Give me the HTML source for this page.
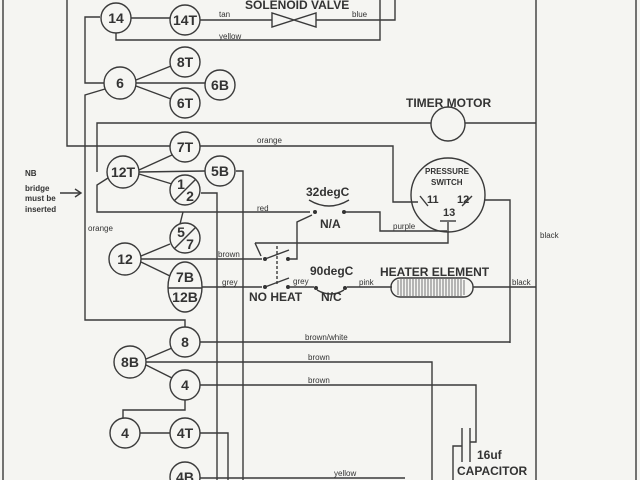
<!DOCTYPE html>
<html><head><meta charset="utf-8"><style>
html,body{margin:0;padding:0;background:#f5f5f2;}
svg{display:block;}
text{font-family:"Liberation Sans",Arial,sans-serif;fill:#333;}
.n{font-size:14px;font-weight:bold;text-anchor:middle;}
.s{font-size:8px;}
.b{font-size:12px;font-weight:bold;}
</style></head><body>
<svg width="640" height="480" viewBox="0 0 640 480" xmlns="http://www.w3.org/2000/svg">
<rect width="640" height="480" fill="#f5f5f2"/>
<g fill="none" stroke="#3a3a3a" stroke-width="1.4">
<line x1="3" y1="0" x2="3" y2="480"/>
<line x1="636" y1="0" x2="636" y2="480"/>
<line x1="536" y1="0" x2="536" y2="480"/>
<polyline points="100,17 85,17 85,83 104,83"/>
<line x1="131" y1="18" x2="170" y2="18"/>
<polyline points="200,20 272,20"/>
<polygon points="272,13 272,27 316,13 316,27"/>
<polyline points="316,20 395,20 395,0"/>
<polyline points="116,33 116,40 380,40 380,0"/>
<polyline points="67,0 67,146 170,146"/>
<line x1="136" y1="80" x2="171" y2="66"/>
<line x1="136" y1="83" x2="205" y2="83"/>
<line x1="136" y1="86" x2="171" y2="99"/>
<polyline points="105,89 85,95 85,320 185,320 185,327"/>
<polyline points="97,172 97,123 431,123"/>
<line x1="465" y1="123" x2="536" y2="123"/>
<circle cx="448" cy="124" r="17"/>
<polyline points="200,146 393,146 393,202 418,202"/>
<polyline points="108,178 97,185 97,212 310,212"/>
<line x1="183" y1="212" x2="180" y2="224"/>
<line x1="139" y1="170" x2="172" y2="155"/>
<line x1="139" y1="172" x2="205" y2="171"/>
<line x1="139" y1="174" x2="172" y2="184"/>
<polyline points="236,171 243,171 243,480"/>
<polyline points="201,193 217,193 217,480"/>
<line x1="141" y1="256" x2="170" y2="244"/>
<line x1="141" y1="259" x2="262" y2="259"/>
<line x1="141" y1="262" x2="170" y2="276"/>
<line x1="202" y1="287" x2="262" y2="287"/>
<line x1="265" y1="259" x2="289" y2="250"/>
<line x1="265" y1="287" x2="289" y2="278"/>
<line x1="277" y1="246" x2="277" y2="284" stroke-dasharray="3,2"/>
<polyline points="290,259 297,259 297,222 312,215"/>
<polyline points="255,243 448,243 448,222"/>
<line x1="255" y1="243" x2="261" y2="256"/>
<polyline points="345,212 380,212 380,231 447,231"/>
<path d="M309,200 Q329,212 349,200"/>
<line x1="290" y1="287" x2="314" y2="287"/>
<path d="M317,290 Q331,298 344,290"/>
<line x1="347" y1="287" x2="392" y2="287"/>
<rect x="391" y="278" width="82" height="19" rx="9" ry="9"/>
<line x1="473" y1="287" x2="536" y2="287"/>
<circle cx="448" cy="195" r="37"/>
<polyline points="485,200 510,200 510,343"/>
<line x1="420" y1="196" x2="428" y2="206"/>
<line x1="462" y1="206" x2="472" y2="196"/>
<line x1="440" y1="221" x2="456" y2="221"/>
<line x1="200" y1="342" x2="510" y2="342"/>
<line x1="146" y1="359" x2="172" y2="348"/>
<polyline points="146,362 432,362 432,480"/>
<line x1="146" y1="365" x2="172" y2="378"/>
<polyline points="200,385 476,385 476,442 470,442"/>
<line x1="462" y1="428" x2="462" y2="462"/>
<line x1="470" y1="428" x2="470" y2="462"/>
<polyline points="462,446 453,446 453,480"/>
<polyline points="185,400 185,410 123,410 123,418"/>
<line x1="140" y1="433" x2="170" y2="433"/>
<polyline points="200,433 228,433 228,480"/>
<line x1="200" y1="478" x2="405" y2="478"/>
<line x1="60" y1="193" x2="80" y2="193"/>
<polyline points="75,189 81,193 75,197"/>
</g>
<g stroke="#555" stroke-width="0.8">
<path d="M398,280V295M401,279V296M404,279V296M407,279V296M410,279V296M413,279V296M416,279V296M419,279V296M422,279V296M425,279V296M428,279V296M431,279V296M434,279V296M437,279V296M440,279V296M443,279V296M446,279V296M449,279V296M452,279V296M455,279V296M458,279V296M461,279V296M464,280V295"/>
</g>
<g fill="#333">
<circle cx="265" cy="259" r="2"/><circle cx="288" cy="259" r="2"/>
<circle cx="265" cy="287" r="2"/><circle cx="288" cy="287" r="2"/>
<circle cx="315" cy="212" r="2"/><circle cx="344" cy="212" r="2"/>
<circle cx="316" cy="288" r="2"/><circle cx="345" cy="288" r="2"/>
</g>
<g fill="#f5f5f2" stroke="#3a3a3a" stroke-width="1.4">
<circle cx="116" cy="18" r="15"/><circle cx="185" cy="20" r="15"/>
<circle cx="120" cy="83" r="16"/><circle cx="185" cy="62" r="15"/>
<circle cx="220" cy="85" r="15"/><circle cx="185" cy="103" r="15"/>
<circle cx="185" cy="147" r="15"/><circle cx="123" cy="172" r="16"/>
<circle cx="220" cy="171" r="15"/><circle cx="185" cy="190" r="15"/>
<circle cx="185" cy="238" r="15"/><circle cx="125" cy="259" r="16"/>
<ellipse cx="185" cy="287" rx="17" ry="25"/>
<circle cx="185" cy="342" r="15"/><circle cx="130" cy="362" r="16"/>
<circle cx="185" cy="385" r="15"/><circle cx="125" cy="433" r="15"/>
<circle cx="185" cy="433" r="15"/><circle cx="185" cy="477" r="15"/>
</g>
<g stroke="#3a3a3a" stroke-width="1.4">
<line x1="174" y1="201" x2="196" y2="179"/>
<line x1="174" y1="249" x2="196" y2="227"/>
<line x1="168" y1="288" x2="202" y2="288"/>
</g>
<g class="n">
<text x="116" y="23">14</text><text x="185" y="25">14T</text>
<text x="120" y="88">6</text><text x="185" y="67">8T</text>
<text x="220" y="90">6B</text><text x="185" y="108">6T</text>
<text x="185" y="152">7T</text><text x="123" y="177">12T</text>
<text x="220" y="176">5B</text>
<text x="181" y="189">1</text><text x="190" y="201">2</text>
<text x="181" y="237">5</text><text x="190" y="249">7</text>
<text x="125" y="264">12</text>
<text x="185" y="282">7B</text><text x="185" y="302">12B</text>
<text x="185" y="347">8</text><text x="130" y="367">8B</text>
<text x="185" y="390">4</text><text x="125" y="438">4</text>
<text x="185" y="438">4T</text><text x="185" y="482">4B</text>
</g>
<g class="b">
<text x="245" y="9">SOLENOID VALVE</text>
<text x="406" y="107">TIMER MOTOR</text>
<text x="306" y="196">32degC</text>
<text x="320" y="228">N/A</text>
<text x="310" y="275">90degC</text>
<text x="249" y="301">NO HEAT</text>
<text x="321" y="301">N/C</text>
<text x="380" y="276">HEATER ELEMENT</text>
<text x="477" y="459">16uf</text>
<text x="457" y="475">CAPACITOR</text>
</g>
<g style="font-size:8px;font-weight:bold;">
<text x="425" y="174">PRESSURE</text>
<text x="431" y="185">SWITCH</text>
</g>
<g style="font-size:11px;font-weight:bold;">
<text x="427" y="203">11</text><text x="457" y="203">12</text>
<text x="443" y="216">13</text>
</g>
<g class="s">
<text x="219" y="17">tan</text><text x="352" y="17">blue</text>
<text x="219" y="39">yellow</text>
<text x="257" y="143">orange</text>
<text x="257" y="211">red</text>
<text x="218" y="257">brown</text>
<text x="222" y="285">grey</text>
<text x="293" y="284">grey</text>
<text x="359" y="285">pink</text>
<text x="512" y="285">black</text>
<text x="393" y="229">purple</text>
<text x="540" y="238">black</text>
<text x="88" y="231">orange</text>
<text x="305" y="340">brown/white</text>
<text x="308" y="360">brown</text>
<text x="308" y="383">brown</text>
<text x="334" y="476">yellow</text>
<text x="25" y="176" style="font-weight:bold">NB</text>
<text x="25" y="191" style="font-weight:bold">bridge</text>
<text x="25" y="201" style="font-weight:bold">must be</text>
<text x="25" y="212" style="font-weight:bold">inserted</text>
</g>
</svg>
</body></html>
